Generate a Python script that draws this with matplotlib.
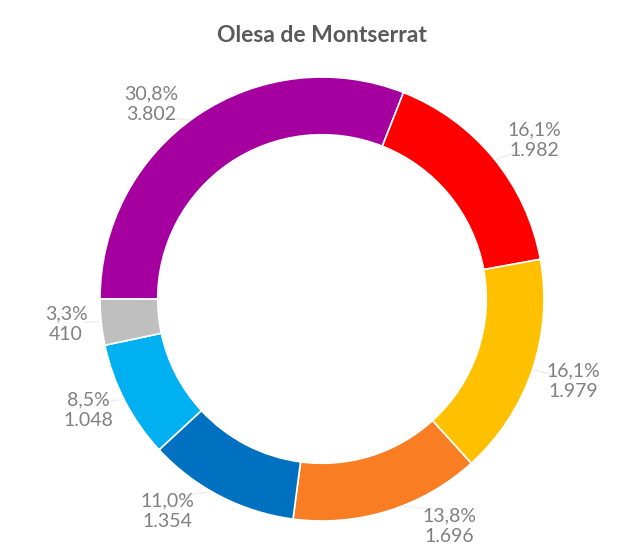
import matplotlib
matplotlib.use("Agg")
import matplotlib.pyplot as plt
import numpy as np

title = "Olesa de Montserrat"
values = [3802, 1982, 1979, 1696, 1354, 1048, 410]
pct_labels = ["30,8%", "16,1%", "16,1%", "13,8%", "11,0%", "8,5%", "3,3%"]
val_labels = ["3.802", "1.982", "1.979", "1.696", "1.354", "1.048", "410"]
colors = ["#A5009F", "#FF0000", "#FFC000", "#F97D23", "#0070C0", "#00B0F0", "#BFBFBF"]

# label anchor positions in pixel layout (centre of text block)
label_px = [(151, 104), (534, 140), (573, 381), (449, 526), (167, 511), (88, 410), (66, 324)]

W, H = 625, 550
cx, cy, R = 322, 299, 222

fig = plt.figure(figsize=(W / 100, H / 100), dpi=100)
fig.patch.set_facecolor("white")
ax = fig.add_axes([0, 0, 1, 1])

wedges, _ = ax.pie(values, colors=colors, startangle=180, counterclock=False,
                   radius=1.0, wedgeprops=dict(width=0.26, edgecolor="white", linewidth=1.2))
ax.set_xlim(-cx / R, (W - cx) / R)
ax.set_ylim(-(H - cy) / R, cy / R)
ax.set_aspect("equal")
ax.axis("off")

font = "Lato"
for i, w in enumerate(wedges):
    px, py = label_px[i]
    lx, ly = (px - cx) / R, (cy - py) / R
    ax.text(lx, ly, pct_labels[i] + "\n" + val_labels[i], ha="center", va="center",
            fontsize=14, color="#808080", family=font, linespacing=1.3)
    ang = np.deg2rad((w.theta1 + w.theta2) / 2)
    ex, ey = 0.97 * np.cos(ang), 0.97 * np.sin(ang)
    ax.plot([ex, lx * 0.93], [ey, ly * 0.93], color="#EBEBEB", lw=0.8, zorder=0)

fig.text(0.515, 1 - 35 / H, title, ha="center", va="center", fontsize=16.5,
         fontweight="bold", color="#595959", family=font)

fig.savefig("out.png", dpi=100, facecolor="white")
